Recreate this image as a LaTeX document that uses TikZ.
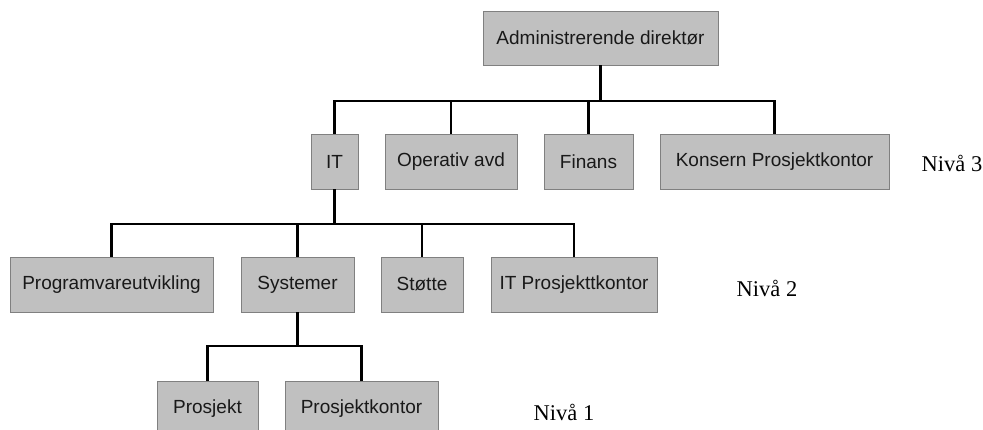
\documentclass[tikz,border=0pt]{standalone}
\usepackage{fontspec}
\setmainfont{Liberation Serif}
\newfontfamily\boxfont{Liberation Sans}
\definecolor{boxfill}{RGB}{192,192,192}
\definecolor{boxline}{RGB}{128,128,128}
\definecolor{boxtext}{RGB}{25,25,25}
\begin{document}
\begin{tikzpicture}[x=1pt,y=-1pt,
  orgbox/.style={draw=boxline,line width=0.9pt,fill=boxfill,rectangle,inner sep=0pt,
    minimum height=55pt,text=boxtext,font=\boxfont\fontsize{19}{21}\selectfont},
  conn/.style={draw=black,line width=2.8pt},
  lvl/.style={font=\fontsize{22.5}{24}\selectfont,inner sep=0pt}]
\fill[white] (0,0) rectangle (983,429);
\useasboundingbox (0,0) rectangle (983,429);
\clip (0,0) rectangle (983,429);
\coordinate (b1) at (0,101);
\coordinate (b2) at (0,224);
\coordinate (b3) at (0,346);
% level 0
\node[orgbox,minimum width=235pt,minimum height=54pt] (admin) at (600.5,38) {Administrerende direktør};
% level 3
\node[orgbox,minimum width=47pt] (it) at (334.5,161.5) {IT};
\node[orgbox,minimum width=132pt] (op) at (451,161.5) {Operativ avd};
\node[orgbox,minimum width=89pt] (fin) at (588.5,161.5) {Finans};
\node[orgbox,minimum width=229pt] (kon) at (774.5,161.5) {Konsern Prosjektkontor};
% level 2
\node[orgbox,minimum width=203pt] (prog) at (111.5,284.5) {Programvareutvikling};
\node[orgbox,minimum width=113pt] (sys) at (297.5,284.5) {Systemer};
\node[orgbox,minimum width=82pt] (stot) at (422,284.5) {Støtte};
\node[orgbox,minimum width=166pt] (itp) at (574,284.5) {IT Prosjekttkontor};
% level 1
\node[orgbox,minimum width=101pt] (pro) at (207.5,408.5) {Prosjekt};
\node[orgbox,minimum width=153pt] (prok) at (361.5,408.5) {Prosjektkontor};
% level labels
\node[lvl] (n3) at (952,163) {Nivå 3};
\node[lvl] (n2) at (767,288) {Nivå 2};
\node[lvl] (n1) at (564,412) {Nivå 1};
% connectors
\draw[conn] (admin.south) -- (admin.south |- b1);
\draw[conn] (it.north) -- (it.north |- b1) -- (kon.north |- b1) -- (kon.north);
\draw[conn] (op.north) -- (op.north |- b1);
\draw[conn] (fin.north) -- (fin.north |- b1);
\draw[conn] (it.south) -- (it.south |- b2);
\draw[conn] (prog.north) -- (prog.north |- b2) -- (itp.north |- b2) -- (itp.north);
\draw[conn] (sys.north) -- (sys.north |- b2);
\draw[conn] (stot.north) -- (stot.north |- b2);
\draw[conn] (sys.south) -- (sys.south |- b3);
\draw[conn] (pro.north) -- (pro.north |- b3) -- (prok.north |- b3) -- (prok.north);
\end{tikzpicture}
\end{document}
